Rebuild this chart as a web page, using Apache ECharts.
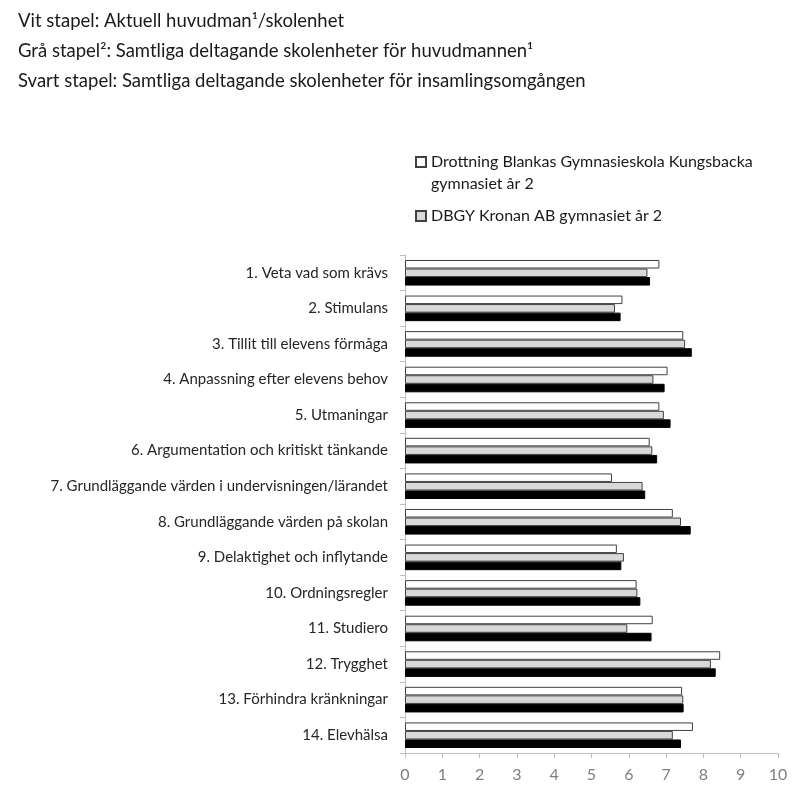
<!DOCTYPE html>
<html><head><meta charset="utf-8">
<script src="https://cdn.jsdelivr.net/npm/echarts@6/dist/echarts.min.js"></script>
<style>html,body{margin:0;padding:0;background:#fff}#c{width:811px;height:796px}</style>
</head><body><div id="c"></div>
<script>
const categories = [
  "1. Veta vad som krävs",
  "2. Stimulans",
  "3. Tillit till elevens förmåga",
  "4. Anpassning efter elevens behov",
  "5. Utmaningar",
  "6. Argumentation och kritiskt tänkande",
  "7. Grundläggande värden i undervisningen/lärandet",
  "8. Grundläggande värden på skolan",
  "9. Delaktighet och inflytande",
  "10. Ordningsregler",
  "11. Studiero",
  "12. Trygghet",
  "13. Förhindra kränkningar",
  "14. Elevhälsa"
];
const seriesNames = [
  "Drottning Blankas Gymnasieskola Kungsbacka\ngymnasiet år 2",
  "DBGY Kronan AB gymnasiet år 2",
  "Samtliga deltagande skolenheter"
];
const whiteValues = [6.82, 5.83, 7.46, 7.04, 6.82, 6.56, 5.55, 7.18, 5.68, 6.21, 6.64, 8.45, 7.43, 7.72];
const grayValues  = [6.50, 5.63, 7.51, 6.66, 6.94, 6.63, 6.37, 7.40, 5.87, 6.23, 5.96, 8.20, 7.46, 7.18];
const blackValues = [6.57, 5.78, 7.69, 6.96, 7.12, 6.76, 6.44, 7.66, 5.80, 6.31, 6.61, 8.33, 7.47, 7.40];
const headerLines = [
  "Vit stapel: Aktuell huvudman¹/skolenhet",
  "Grå stapel²: Samtliga deltagande skolenheter för huvudmannen¹",
  "Svart stapel: Samtliga deltagande skolenheter för insamlingsomgången"
];
const xTicks = { min: 0, max: 10, interval: 1 };

const FONT = 'Lato';
// square drawn at top of a taller icon box so it aligns with the first text line
const topSquareIcon = 'path://M0,0L10,0L10,10L0,10Z M0,32L0,32';
const chart = echarts.init(document.getElementById('c'), null, { renderer: 'canvas' });
chart.setOption({
  animation: false,
  backgroundColor: '#fff',
  textStyle: { fontFamily: FONT },
  title: headerLines.map((t, i) => ({
    text: t, left: 13, top: 7 + i * 30,
    textStyle: { fontFamily: FONT, fontSize: 18.5, fontWeight: 'normal', color: '#1a1a1a' }
  })),
  legend: [
    {
      data: [{ name: seriesNames[0], icon: topSquareIcon }], left: 410, top: 146, orient: 'vertical',
      itemWidth: 10, itemHeight: 32, itemGap: 0, padding: 5,
      textStyle: { fontFamily: FONT, fontSize: 16, color: '#1a1a1a', lineHeight: 22 },
      selectedMode: false
    },
    {
      data: [{ name: seriesNames[1], icon: 'rect' }], left: 410, top: 200, orient: 'vertical',
      itemWidth: 10, itemHeight: 10, padding: 5,
      textStyle: { fontFamily: FONT, fontSize: 16, color: '#1a1a1a', lineHeight: 22 },
      selectedMode: false
    }
  ],
  grid: { left: 405, right: 33, top: 255, bottom: 43, containLabel: false },
  xAxis: {
    type: 'value', min: xTicks.min, max: xTicks.max, interval: xTicks.interval,
    axisLine: { show: true, lineStyle: { color: '#bfbfbf', width: 1 } },
    axisTick: { show: true, length: 5, lineStyle: { color: '#bfbfbf' } },
    axisLabel: { fontFamily: FONT, fontSize: 16, color: '#7f7f7f', margin: 14 },
    splitLine: { show: false }
  },
  yAxis: {
    type: 'category', data: categories, inverse: true,
    axisLine: { show: true, lineStyle: { color: '#bfbfbf', width: 1 } },
    axisTick: { show: true, length: 5, lineStyle: { color: '#bfbfbf' } },
    axisLabel: { fontFamily: FONT, fontSize: 15, color: '#262626', margin: 17 }
  },
  series: [
    { name: seriesNames[0], type: 'bar', data: whiteValues, barGap: '0%', barCategoryGap: '28%',
      itemStyle: { color: '#ffffff', borderColor: '#404040', borderWidth: 1 } },
    { name: seriesNames[1], type: 'bar', data: grayValues,
      itemStyle: { color: '#d9d9d9', borderColor: '#404040', borderWidth: 1 } },
    { name: seriesNames[2], type: 'bar', data: blackValues,
      itemStyle: { color: '#000000', borderColor: '#000000', borderWidth: 1 } }
  ]
});
</script></body></html>
